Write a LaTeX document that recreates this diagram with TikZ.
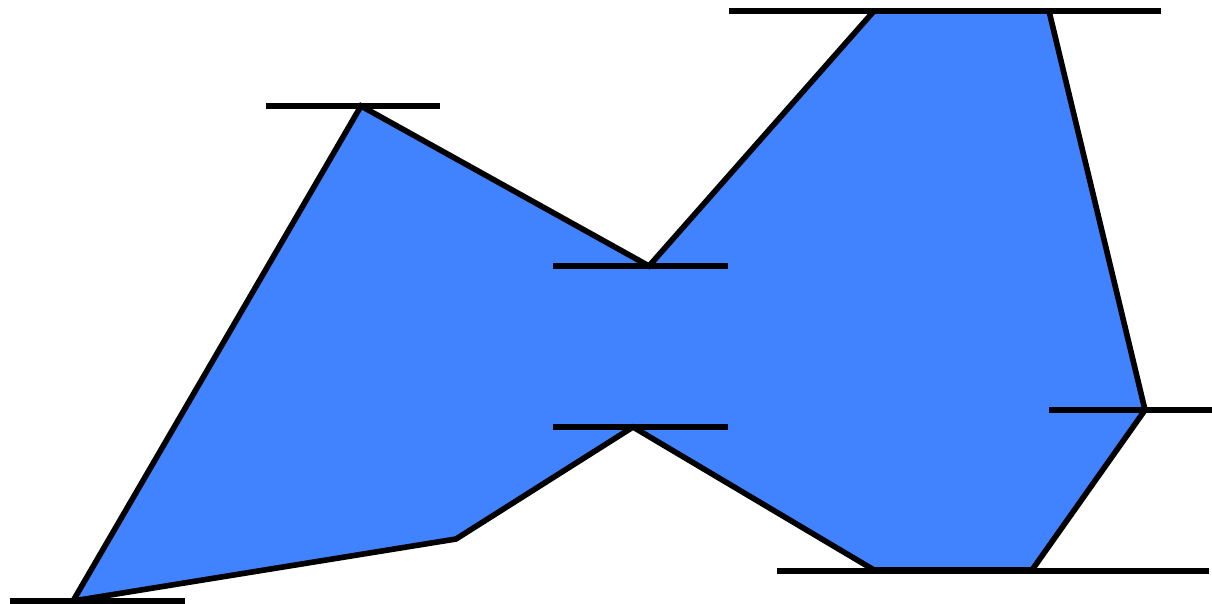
\documentclass[tikz,border=0pt]{standalone}
\usepackage{tikz}
\usetikzlibrary{positioning}
\definecolor{shapeblue}{RGB}{65,130,255}
\tikzset{
  outline/.style={draw=black, line width=3.2pt, line join=miter, fill=shapeblue},
  level/.style={draw=black, line width=3.2pt}
}
\begin{document}
\begin{tikzpicture}[x=0.02cm, y=-0.02cm]
  \useasboundingbox (0,0) rectangle (1212,604);
  \coordinate (a) at (73,601);
  \coordinate (b) at (361,106);
  \coordinate (c) at (649,266);
  \coordinate (d) at (874,11);
  \coordinate (e) at (1049,11);
  \coordinate (f) at (1145,410);
  \coordinate (g) at (1032,570);
  \coordinate (h) at (874,570);
  \coordinate (i) at (633,427);
  \coordinate (j) at (456,539);

  \draw[outline] (a) -- (b) -- (c) -- (d) -- (e) -- (f) -- (g) -- (h) -- (i) -- (j) -- cycle;

  % horizontal marks
  \draw[level] (10,601) -- (185,601);
  \draw[level] (266,106) -- (440,106);
  \draw[level] (553,266) -- (728,266);
  \draw[level] (553,427) -- (728,427);
  \draw[level] (729,11) -- (1161,11);
  \draw[level] (1049,410) -- (1212,410);
  \draw[level] (777,571) -- (1209,571);
\end{tikzpicture}
\end{document}
